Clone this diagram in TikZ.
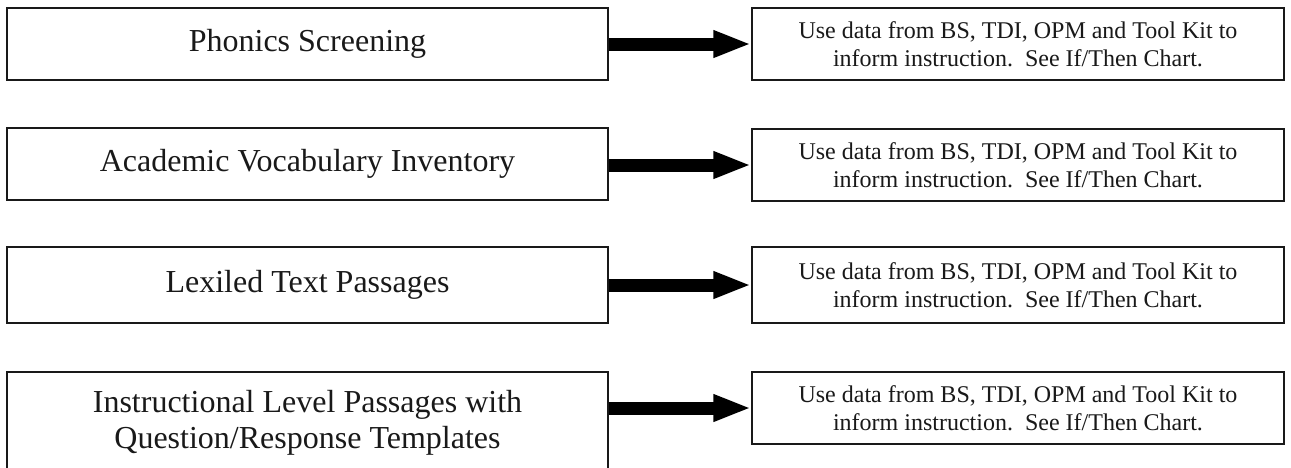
\documentclass[tikz,border=0pt]{standalone}
\usepackage{fontspec}
\setmainfont{Liberation Serif}
\usetikzlibrary{arrows.meta}
\begin{document}
\begin{tikzpicture}[x=1pt,y=-1pt,
  leftbox/.style={draw=black!90, line width=1.5pt, fill=white, inner sep=0pt,
    minimum width=601pt, align=center, text=black!90,
    font=\fontsize{32}{36}\selectfont},
  rightbox/.style={draw=black!90, line width=1.5pt, fill=white, inner sep=0pt,
    minimum width=532pt, minimum height=72pt, align=center, text=black!90,
    font=\fontsize{24}{28}\selectfont},
  bigarrow/.style={draw=black, line width=13pt,
    -{Triangle[length=38pt 0 0, width=25pt 0 0]}}]
\useasboundingbox (0,0) rectangle (1291,467);
\clip (0,0) rectangle (1291,467);
% left boxes
\node[leftbox, minimum height=72pt] (l1) at (307.5,44) {Phonics Screening};
\node[leftbox, minimum height=72pt] (l2) at (307.5,164) {Academic Vocabulary Inventory};
\node[leftbox, minimum height=76pt] (l3) at (307.5,285) {Lexiled Text Passages};
\node[leftbox, minimum height=102pt] (l4) at (307.5,423) {Instructional Level Passages with\\Question/Response Templates};
% right boxes
\node[rightbox] (r1) at (1018,44) {Use data from BS, TDI, OPM and Tool Kit to\\inform instruction.\ \ See If/Then Chart.};
\node[rightbox] (r2) at (1018,165) {Use data from BS, TDI, OPM and Tool Kit to\\inform instruction.\ \ See If/Then Chart.};
\node[rightbox, minimum height=76pt] (r3) at (1018,285) {Use data from BS, TDI, OPM and Tool Kit to\\inform instruction.\ \ See If/Then Chart.};
\node[rightbox] (r4) at (1018,408) {Use data from BS, TDI, OPM and Tool Kit to\\inform instruction.\ \ See If/Then Chart.};
% arrows
\draw[bigarrow] (l1.east |- r1.west) -- (r1.west);
\draw[bigarrow] (l2.east |- r2.west) -- (r2.west);
\draw[bigarrow] (l3.east |- r3.west) -- (r3.west);
\draw[bigarrow] (l4.east |- r4.west) -- (r4.west);
\end{tikzpicture}
\end{document}
